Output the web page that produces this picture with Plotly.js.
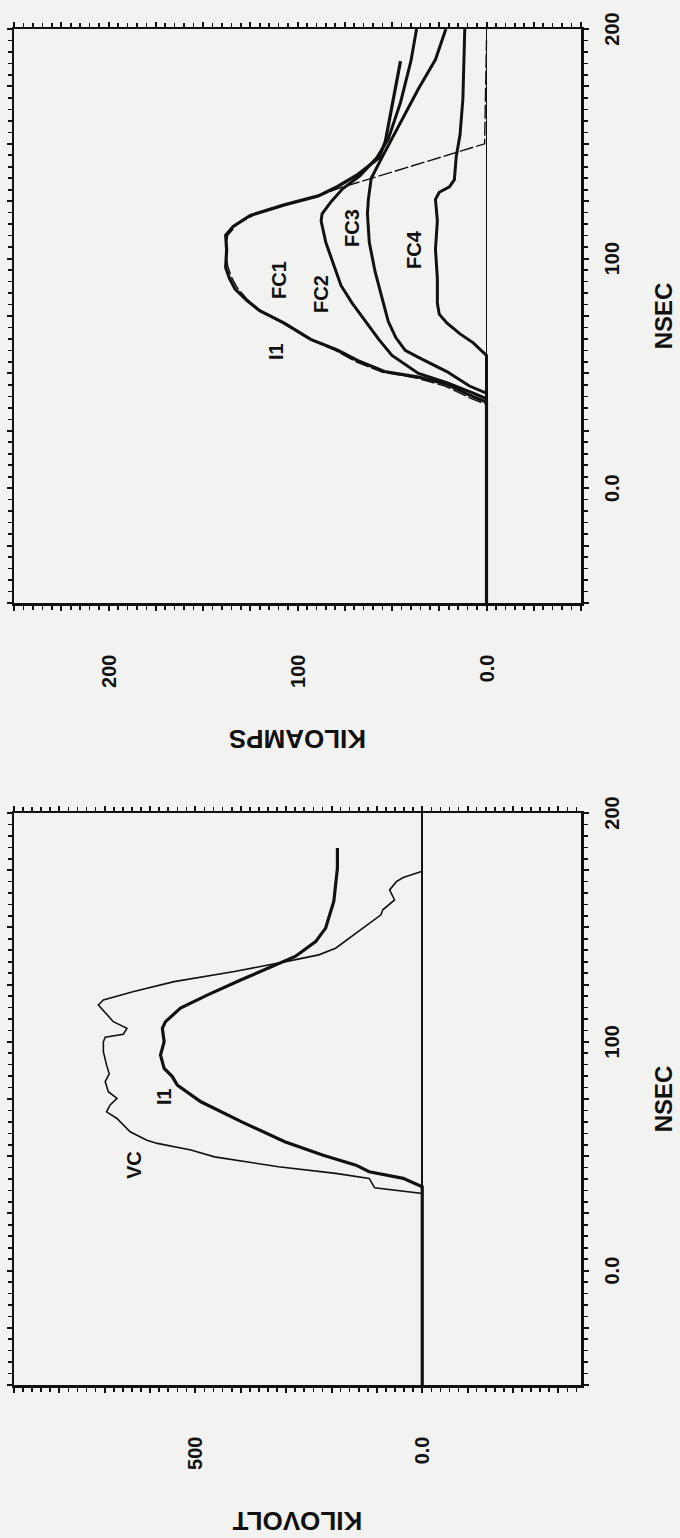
<!DOCTYPE html>
<html>
<head>
<meta charset="utf-8">
<script src="https://cdn.plot.ly/plotly-3.0.1.min.js"></script>
<style>
html,body{margin:0;padding:0;background:#f2f2f0;overflow:hidden;width:680px;height:1538px;}
#wrap{position:absolute;left:0;top:0;width:1538px;height:680px;transform-origin:0 0;transform:translate(0px,1538px) rotate(-90deg);}
</style>
</head>
<body>
<div id="wrap"></div>
<script>
// ---------- data: left panel (KILOVOLT vs NSEC) ----------
var vcT  = [-50, 33.7, 36.2, 40.3, 42.5, 45.4, 49.7, 52.7, 55.6, 57, 60.7, 66.5, 69.4, 72.4, 75.3, 78.2, 82.6, 86, 89.9, 95.7, 100, 102, 103.3, 105.9, 108.8, 113.9, 116.1, 118.3, 122, 126.3, 130.7, 134.4, 135.8, 138, 140.9, 149.7, 155.5, 157.7, 162, 166.4, 170, 171.8, 174.5];
var vcKV = [0, 0, 105, 117, 191, 317, 458, 510, 584, 607, 644, 673, 696, 688, 673, 692, 699, 690, 696, 703, 703, 699, 659, 651, 681, 703, 714, 703, 636, 547, 414, 317, 280, 228, 191, 131, 91, 87, 61, 72, 57, 42, 0];

var i1LT  = [-50, 36.6, 40.3, 43.2, 46.1, 50.5, 56.3, 65.1, 73.8, 81.1, 84.8, 88.4, 94.2, 100.1, 105.9, 108.8, 114.7, 120.5, 127.1, 132.2, 137.3, 143.8, 149.7, 161.3, 175.9, 184.7];
var i1LKV = [0, 0, 42, 117, 146, 220, 303, 399, 488, 540, 551, 569, 577, 569, 573, 566, 533, 473, 399, 339, 280, 235, 213, 195, 187, 187];

// ---------- data: right panel (KILOAMPS vs NSEC) ----------
var i1RT  = [-50, 37.5, 39.8, 45.3, 48.4, 50.8, 55.5, 60.2, 64.8, 71.9, 77.3, 82, 86.7, 91.4, 96.1, 103.9, 110.2, 114, 118.8, 123.4, 127.3, 131.3, 136.7, 143.8, 150.8, 166, 186];
var i1RKA = [0, 0, 7, 21, 36, 54, 68, 79, 93, 107, 120, 127, 133, 136, 138, 137.5, 138, 134, 125, 107, 89, 79, 68, 57, 53.6, 50, 45.5];

var fc1T  = [-50, 36.5, 39, 44.5, 48, 50.5, 55, 60, 65, 72, 77.5, 82.5, 87.5, 92, 97, 104, 110, 115, 119.5, 124, 128, 130.5, 150, 195];
var fc1KA = [0, 0, 8, 22, 37, 55, 69, 80, 94, 108, 120, 127, 132, 135, 137, 138, 137, 132, 122, 103, 87, 78.6, 1, 0];

var fc2T  = [-50, 39, 41.4, 46, 50, 57.8, 64.8, 72.7, 80.5, 88.3, 97.7, 107, 116.4, 119.5, 125, 130.5, 136, 144, 152, 168, 186, 200];
var fc2KA = [0, 0, 7, 21, 36, 50, 57, 64, 71, 77, 81, 85, 87.5, 87, 82, 76, 67, 58, 52, 45.5, 40, 37];

var fc3T  = [-50, 41.4, 44.5, 50.8, 57, 60, 65.6, 72.7, 82, 94.5, 107, 119.5, 125.8, 135, 144.5, 158.6, 174, 186.7, 200];
var fc3KA = [0, 0, 9, 21, 36, 43, 48, 52, 55, 59, 62, 63, 62.5, 61, 55, 46, 36, 27, 21.5];

var fc4T  = [-50, 57.8, 63.3, 67.2, 72, 75.8, 80.5, 91.4, 104, 116.4, 125.8, 128.9, 131.3, 134.4, 144.5, 153.9, 169.5, 200];
var fc4KA = [0, 0, 7, 14, 21, 25, 26, 26, 27, 26, 27, 25, 19.6, 17, 16, 14, 12.5, 11.5];

// ---------- ticks ----------
var nsecTicks = [-50, -25, 0, 25, 50, 75, 100, 125, 150, 175, 200];
var nsecText  = ['', '', '0.0', '', '', '', '100', '', '', '', '200'];
var kvTicks = [-300, -200, -100, 0, 100, 200, 300, 400, 500, 600, 700, 800, 900];
var kvText  = ['', '', '', '0.0', '', '', '', '', '500', '', '', '', ''];
var kaTicks = [-50, -25, 0, 25, 50, 75, 100, 125, 150, 175, 200, 225, 250];
var kaText  = ['', '', '0.0', '', '', '', '100', '', '', '', '200', '', ''];

// ---------- labels ----------
var leftLabels  = [{t: 46.1, v: 636, s: 'VC'}, {t: 76, v: 569, s: 'I1'}];
var rightLabels = [{t: 59.4, v: 111.6, s: 'I1'}, {t: 90.6, v: 110, s: 'FC1'}, {t: 84.4, v: 87.5, s: 'FC2'},
                   {t: 113.3, v: 71.4, s: 'FC3'}, {t: 104, v: 38.4, s: 'FC4'}];

var INK = '#111111';
var BG = '#f2f2f0';
var FONT = 'Liberation Sans, Arial, Helvetica, sans-serif';

function line(x, y, xa, ya, w, dash) {
  return {type: 'scatter', mode: 'lines', x: x, y: y, xaxis: xa, yaxis: ya,
          line: {color: INK, width: w, dash: dash || 'solid', shape: 'linear'},
          hoverinfo: 'skip', showlegend: false};
}

var traces = [
  line(vcT, vcKV, 'x', 'y', 1.6),
  line(i1LT, i1LKV, 'x', 'y', 3.2),
  line(fc1T, fc1KA, 'x2', 'y2', 1.4, '14px,3px'),
  line(fc4T, fc4KA, 'x2', 'y2', 3),
  line(fc3T, fc3KA, 'x2', 'y2', 3),
  line(fc2T, fc2KA, 'x2', 'y2', 3),
  line(i1RT, i1RKA, 'x2', 'y2', 3.2)
];

var W = 1538, H = 680;
var yDom = [(H - 581) / H, (H - 14) / H];
var xDom1 = [153 / W, 725 / W];
var xDom2 = [935 / W, 1509 / W];

function mainX(dom, anchor, titleStandoff) {
  return {domain: dom, anchor: anchor, range: [-50, 200], autorange: false,
    tickmode: 'array', tickvals: nsecTicks, ticktext: nsecText,
    ticks: 'outside', ticklen: 5, tickwidth: 2, tickcolor: INK,
    minor: {tickmode: 'linear', tick0: 0, dtick: 5, ticks: 'outside', ticklen: 4, tickwidth: 1.6, tickcolor: INK},
    showline: true, linewidth: 2.5, linecolor: INK, mirror: 'ticks',
    showgrid: false, zeroline: false, ticklabelstandoff: 6,
    tickfont: {family: FONT, size: 20, color: INK, weight: 'bold'},
    title: {text: 'NSEC', standoff: titleStandoff, font: {family: FONT, size: 24, color: INK, weight: 'bold'}}};
}
function mainY(dom, anchor, rng, vals, text, minorD, title) {
  return {domain: dom, anchor: anchor, range: rng, autorange: false,
    tickmode: 'array', tickvals: vals, ticktext: text,
    ticks: 'outside', ticklen: 5, tickwidth: 2, tickcolor: INK,
    minor: {tickmode: 'linear', tick0: 0, dtick: minorD, ticks: 'outside', ticklen: 4, tickwidth: 1.6, tickcolor: INK},
    showline: true, linewidth: 2.5, linecolor: INK, mirror: 'ticks',
    showgrid: false, zeroline: true, zerolinecolor: INK, zerolinewidth: 1.6,
    ticklabelstandoff: 40,
    tickfont: {family: FONT, size: 20, color: INK, weight: 'bold'},
    title: {text: title, standoff: 34, font: {family: FONT, size: 26, color: INK, weight: 'bold'}}};
}
function innerX(over, anchor) {
  return {overlaying: over, anchor: anchor, range: [-50, 200], autorange: false,
    tickmode: 'array', tickvals: nsecTicks, ticks: 'inside', ticklen: 4, tickwidth: 2, tickcolor: INK,
    showticklabels: false, showline: false, showgrid: false, zeroline: false, mirror: 'ticks'};
}
function innerY(over, anchor, rng, vals) {
  return {overlaying: over, anchor: anchor, range: rng, autorange: false,
    tickmode: 'array', tickvals: vals, ticks: 'inside', ticklen: 4, tickwidth: 2, tickcolor: INK,
    showticklabels: false, showline: false, showgrid: false, zeroline: false, mirror: 'ticks'};
}

var annotations = [];
leftLabels.forEach(function (a) {
  annotations.push({x: a.t, y: a.v, xref: 'x', yref: 'y', text: a.s, showarrow: false,
    font: {family: FONT, size: 20, color: INK, weight: 'bold'}});
});
rightLabels.forEach(function (a) {
  annotations.push({x: a.t, y: a.v, xref: 'x2', yref: 'y2', text: a.s, showarrow: false,
    font: {family: FONT, size: 20, color: INK, weight: 'bold'}});
});

var layout = {
  width: W, height: H,
  margin: {l: 0, r: 0, t: 0, b: 0, pad: 0},
  paper_bgcolor: BG, plot_bgcolor: BG,
  showlegend: false,
  xaxis: mainX(xDom1, 'y', 34),
  yaxis: mainY(yDom, 'x', [-350, 900], kvTicks, kvText, 20, 'KILOVOLT'),
  xaxis2: mainX(xDom2, 'y2', 34),
  yaxis2: mainY(yDom, 'x2', [-50, 250], kaTicks, kaText, 5, 'KILOAMPS'),
  xaxis3: innerX('x', 'y'),
  yaxis3: innerY('y', 'x', [-350, 900], kvTicks),
  xaxis4: innerX('x2', 'y2'),
  yaxis4: innerY('y2', 'x2', [-50, 250], kaTicks),
  annotations: annotations
};

Plotly.newPlot('wrap', traces, layout, {staticPlot: true, displayModeBar: false, responsive: false});
</script>
</body>
</html>
